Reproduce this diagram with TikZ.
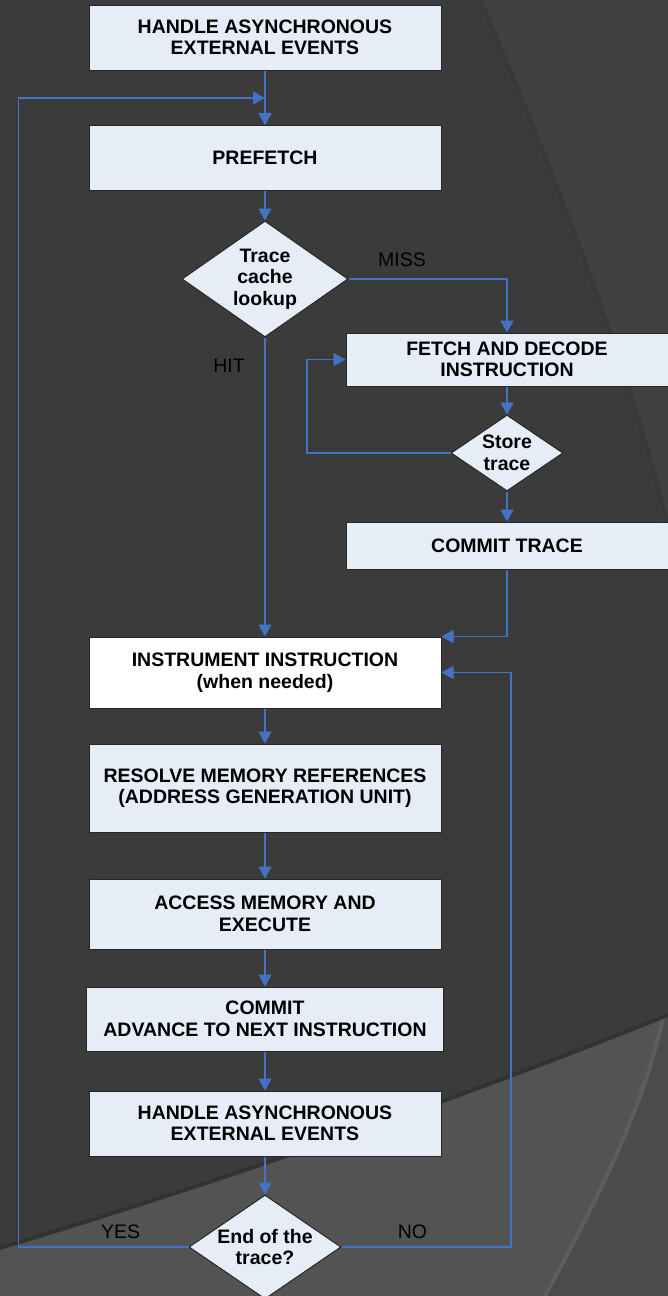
\documentclass[tikz,border=0pt]{standalone}
\usepackage{fontspec}
\setmainfont{Liberation Sans}
\usetikzlibrary{arrows.meta,shapes.geometric}
\definecolor{bgdark}{RGB}{59,59,59}
\definecolor{bgtr}{RGB}{65,65,65}
\definecolor{bglow}{RGB}{83,83,83}
\definecolor{bglowb}{RGB}{75,75,75}
\definecolor{boxfill}{RGB}{231,237,247}
\definecolor{flow}{RGB}{68,114,196}
\tikzset{
  stepbox/.style={rectangle, draw=black!85, line width=1pt, fill=boxfill, align=center,
    inner sep=0pt, font=\bfseries\fontsize{19.5}{21.5}\selectfont, text=black},
  decbox/.style={diamond, draw=black!85, line width=1pt, fill=boxfill, inner sep=0pt},
  dectext/.style={align=center, inner sep=0pt, font=\bfseries\fontsize{19.5}{21.5}\selectfont, text=black},
  lbl/.style={inner sep=0pt, font=\fontsize{19.5}{21.5}\selectfont, text=black},
  arr/.style={draw=flow, line width=1.3pt, -{Triangle[length=12pt,width=13pt]}},
  ln/.style={draw=flow, line width=1.3pt}
}
\begin{document}
\begin{tikzpicture}[x=1pt,y=-1pt]
\useasboundingbox (0,0) rectangle (668,1296);
% background
\fill[bgdark] (0,0) rectangle (668,1296);
\fill[bgtr] (477,0) .. controls (545,160) and (625,360) .. (668,540) -- (668,0) -- cycle;
\draw[black, opacity=0.12, line width=5pt] (480,0) .. controls (548,160) and (628,360) .. (671,540);
\fill[bglow] (0,1250) .. controls (200,1190) and (450,1105) .. (668,1017) -- (668,1296) -- (0,1296) -- cycle;
\begin{scope}
\clip (0,1250) .. controls (200,1190) and (450,1105) .. (668,1017) -- (668,1296) -- (0,1296) -- cycle;
\fill[bglowb] (668,1003) .. controls (650,1100) and (600,1200) .. (547,1296) -- (668,1296) -- cycle;
\draw[white, opacity=0.06, line width=4pt] (666,1003) .. controls (648,1100) and (598,1200) .. (545,1296);
\end{scope}
\draw[black, opacity=0.15, line width=4pt] (0,1248) .. controls (200,1188) and (450,1103) .. (668,1015);

% nodes
\node[stepbox, minimum width=352pt, minimum height=65pt] (b1) at (265,37.5) {HANDLE ASYNCHRONOUS\\EXTERNAL EVENTS};
\node[stepbox, minimum width=352pt, minimum height=64.6pt] (b2) at (265,158) {PREFETCH};
\node[decbox, minimum width=166pt, minimum height=116pt] (d1) at (265,279) {};
\node[dectext] at (d1) {Trace\\cache\\lookup};
\node[stepbox, minimum width=322pt, minimum height=53pt] (b3) at (507,359.5) {FETCH AND DECODE\\INSTRUCTION};
\node[decbox, minimum width=112pt, minimum height=76pt] (d2) at (507,453) {};
\node[dectext] at (d2) {Store\\trace};
\node[stepbox, minimum width=322pt, minimum height=47pt] (b4) at (507,545.5) {COMMIT TRACE};
\node[stepbox, fill=white, minimum width=352pt, minimum height=71pt] (b5) at (265,672.5) {INSTRUMENT INSTRUCTION\\(when needed)};
\node[stepbox, minimum width=352pt, minimum height=88pt] (b6) at (265,788) {RESOLVE MEMORY REFERENCES\\(ADDRESS GENERATION UNIT)};
\node[stepbox, minimum width=352pt, minimum height=70pt] (b7) at (265,914) {ACCESS MEMORY AND\\EXECUTE};
\node[stepbox, minimum width=356.5pt, minimum height=64pt] (b8) at (265,1019) {COMMIT\\ADVANCE TO NEXT INSTRUCTION};
\node[stepbox, minimum width=352pt, minimum height=65pt] (b9) at (265,1123.5) {HANDLE ASYNCHRONOUS\\EXTERNAL EVENTS};
\node[decbox, minimum width=152pt, minimum height=104pt] (d3) at (265,1247) {};
\node[dectext] at (d3) {End of the\\trace?};

% labels
\node[lbl] (miss) at (402,260) {MISS};
\node[lbl] (hit) at (229,366) {HIT};
\node[lbl] (yes) at (120.6,1232) {YES};
\node[lbl] (no) at (412.5,1232) {NO};

% helper coordinates
\coordinate (j1) at (265,98);
\coordinate (yl) at (18.3,98);
\coordinate (sl) at (307,0);
\coordinate (nr) at (511,0);

% connectors
\draw[arr] (b1.south) -- (b2.north);
\draw[arr] (d3.west) -| (yl) -- (j1);
\draw[arr] (b2.south) -- (d1.north);
\draw[arr] (d1.east) -| (b3.north);
\draw[arr] (d1.south) -- (b5.north);
\draw[arr] (b3.south) -- (d2.north);
\draw[arr] (d2.west) -| (sl |- b3.west) -- (b3.west);
\draw[arr] (d2.south) -- (b4.north);
\draw[arr] (b4.south) |- (b5.north east);
\draw[arr] (b5.south) -- (b6.north);
\draw[arr] (b6.south) -- (b7.north);
\draw[arr] (b7.south) -- (b8.north);
\draw[arr] (b8.south) -- (b9.north);
\draw[arr] (b9.south) -- (d3.north);
\draw[arr] (d3.east) -| (nr |- b5.east) -- (b5.east);
\end{tikzpicture}
\end{document}
